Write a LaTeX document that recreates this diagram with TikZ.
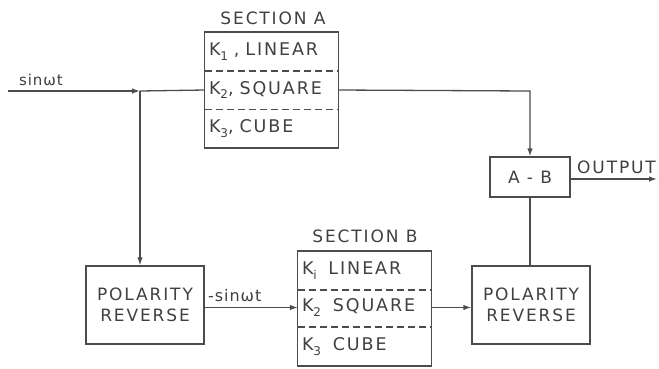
\documentclass[tikz,border=0pt]{standalone}
\usepackage{fontspec}
\setmainfont{DejaVu Sans}
\newfontfamily\wide[LetterSpace=11]{DejaVu Sans}
\newfontfamily\midw[LetterSpace=6]{DejaVu Sans}
\usetikzlibrary{arrows.meta}
\newcommand{\sbx}[1]{\raisebox{-0.45ex}{\fontsize{12}{12}\selectfont #1}}
\tikzset{
  arr/.style={-{Latex[length=8pt,width=5.5pt]}},
  ln/.style={line width=1.3pt, draw=black!70},
  dsh/.style={ln, dash pattern=on 7pt off 4pt},
  rowbox/.style={minimum width=133pt, minimum height=38.5pt, inner sep=0pt, text width=125pt, align=left, font=\wide\fontsize{17.5}{17.5}\selectfont, text=black!75},
  blockbox/.style={ln, draw, minimum width=118pt, minimum height=78pt, align=center, font=\wide\fontsize{17}{21}\selectfont, text=black!75, inner sep=0pt},
  lbl/.style={font=\midw\fontsize{15}{15}\selectfont, text=black!75, inner sep=0pt},
  ttl/.style={font=\wide\fontsize{17}{17}\selectfont, text=black!75, inner sep=0pt},
}
\begin{document}
\begin{tikzpicture}[x=1pt,y=-1pt]
\useasboundingbox (0,0) rectangle (659,368);
% Section A
\node[rowbox] (a1) at (271.5,51.5) {K\sbx{1} , LINEAR};
\node[rowbox] (a2) at (271.5,90) {K\sbx{2}, SQUARE};
\node[rowbox] (a3) at (271.5,128.5) {K\sbx{3}, CUBE};
\draw[ln] (a1.north west) rectangle (a3.south east);
\draw[dsh] (a1.south west) -- (a1.south east);
\draw[dsh] (a2.south west) -- (a2.south east);
\node[ttl] (ta) at (273,18.5) {SECTION A};
% Section B
\node[rowbox] (b1) at (364.5,270.5) {K\sbx{i}\ \ LINEAR};
\node[rowbox] (b2) at (364.5,307.5) {K\sbx{2}\ \ SQUARE};
\node[rowbox] (b3) at (364.5,346.5) {K\sbx{3}\ \ CUBE};
\draw[ln] (b1.north west) rectangle (b3.south east);
\draw[dsh] (b1.south west) -- (b1.south east);
\draw[dsh] (b2.south west) -- (b2.south east);
\node[ttl] (tb) at (365,236.5) {SECTION\ B};
% other blocks
\node[blockbox] (pr1) at (145,305) {POLARITY\\REVERSE};
\node[blockbox] (pr2) at (531,305) {POLARITY\\REVERSE};
\node[ln, draw, minimum width=80pt, minimum height=40pt, inner sep=0pt, font=\wide\fontsize{17}{17}\selectfont, text=black!75] (ab) at (530,177) {A - B};
% connectors
\coordinate (in) at (8,91);
\coordinate (br) at (140,91);
\coordinate (out) at (657,179);
\coordinate (cr) at (530,91);
\draw[ln,arr] (in) -- (br);
\draw[ln] (br) -- (a2.west);
\draw[ln,arr] (br) -- (pr1.north -| br);
\draw[ln,arr] (a2.east) -- (cr) -- (ab.north);
\draw[ln,arr] (ab.east |- out) -- (out);
\draw[ln] (ab.south) -- (pr2.north -| ab.south);
\draw[ln,arr] (pr1.east |- b2.west) -- (b2.west);
\draw[ln,arr] (b2.east) -- (pr2.west |- b2.east);
% labels
\node[lbl, anchor=south west] (l1) at (19,86) {sinωt};
\node[lbl, anchor=south west, font=\midw\fontsize{16}{16}\selectfont] (l2) at (208,302) {-sinωt};
\node[ttl, anchor=south west] (l3) at (577,174) {OUTPUT};
\end{tikzpicture}
\end{document}
